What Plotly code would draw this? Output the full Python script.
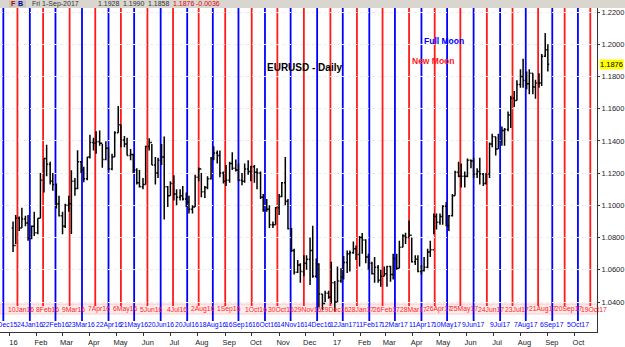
import plotly.graph_objects as go

# ---------------- data ----------------
bar_dates = [
    "2016-01-05", "2016-01-08", "2016-01-12", "2016-01-15", "2016-01-19", "2016-01-22", "2016-01-26", "2016-01-29",
    "2016-02-02", "2016-02-05", "2016-02-09", "2016-02-12", "2016-02-16", "2016-02-19", "2016-02-23", "2016-02-26",
    "2016-03-01", "2016-03-04", "2016-03-08", "2016-03-11", "2016-03-15", "2016-03-18", "2016-03-22", "2016-03-25",
    "2016-03-29", "2016-04-01", "2016-04-05", "2016-04-08", "2016-04-12", "2016-04-15", "2016-04-19", "2016-04-22",
    "2016-04-26", "2016-04-29", "2016-05-03", "2016-05-06", "2016-05-10", "2016-05-13", "2016-05-17", "2016-05-20",
    "2016-05-24", "2016-05-27", "2016-05-31", "2016-06-03", "2016-06-07", "2016-06-10", "2016-06-14", "2016-06-17",
    "2016-06-21", "2016-06-24", "2016-06-28", "2016-07-01", "2016-07-05", "2016-07-08", "2016-07-12", "2016-07-15",
    "2016-07-19", "2016-07-22", "2016-07-26", "2016-07-29", "2016-08-02", "2016-08-05", "2016-08-09", "2016-08-12",
    "2016-08-16", "2016-08-19", "2016-08-23", "2016-08-26", "2016-08-30", "2016-09-02", "2016-09-06", "2016-09-09",
    "2016-09-13", "2016-09-16", "2016-09-20", "2016-09-23", "2016-09-27", "2016-09-30", "2016-10-04", "2016-10-07",
    "2016-10-11", "2016-10-14", "2016-10-18", "2016-10-21", "2016-10-25", "2016-10-28", "2016-11-01", "2016-11-04",
    "2016-11-08", "2016-11-11", "2016-11-15", "2016-11-18", "2016-11-22", "2016-11-25", "2016-11-29", "2016-12-02",
    "2016-12-06", "2016-12-09", "2016-12-13", "2016-12-16", "2016-12-20", "2016-12-23", "2016-12-27", "2016-12-30",
    "2017-01-03", "2017-01-06", "2017-01-10", "2017-01-13", "2017-01-17", "2017-01-20", "2017-01-24", "2017-01-27",
    "2017-01-31", "2017-02-03", "2017-02-07", "2017-02-10", "2017-02-14", "2017-02-17", "2017-02-21", "2017-02-24",
    "2017-02-28", "2017-03-03", "2017-03-07", "2017-03-10", "2017-03-14", "2017-03-17", "2017-03-21", "2017-03-24",
    "2017-03-28", "2017-03-31", "2017-04-04", "2017-04-07", "2017-04-11", "2017-04-14", "2017-04-18", "2017-04-21",
    "2017-04-25", "2017-04-28", "2017-05-02", "2017-05-05", "2017-05-09", "2017-05-12", "2017-05-16", "2017-05-19",
    "2017-05-23", "2017-05-26", "2017-05-30", "2017-06-02", "2017-06-06", "2017-06-09", "2017-06-13", "2017-06-16",
    "2017-06-20", "2017-06-23", "2017-06-27", "2017-06-30", "2017-07-04", "2017-07-07", "2017-07-11", "2017-07-14",
    "2017-07-18", "2017-07-21", "2017-07-25", "2017-07-28", "2017-08-01", "2017-08-04", "2017-08-08", "2017-08-11",
    "2017-08-15", "2017-08-18", "2017-08-22", "2017-08-25", "2017-08-29", "2017-09-01",
]
bar_high = [
    1.0900, 1.0940, 1.0930, 1.0985, 1.0935, 1.0940, 1.0875, 1.0960,
    1.0920, 1.1200, 1.1290, 1.1376, 1.1270, 1.1200, 1.1135, 1.1060,
    1.0960, 1.1010, 1.1060, 1.1218, 1.1170, 1.1342, 1.1275, 1.1240,
    1.1300, 1.1438, 1.1420, 1.1460, 1.1465, 1.1380, 1.1398, 1.1360,
    1.1320, 1.1460, 1.1616, 1.1500, 1.1430, 1.1420, 1.1350, 1.1320,
    1.1230, 1.1220, 1.1170, 1.1370, 1.1416, 1.1380, 1.1300, 1.1295,
    1.1380, 1.1428, 1.1120, 1.1150, 1.1187, 1.1100, 1.1100, 1.1120,
    1.1080, 1.1060, 1.1000, 1.1190, 1.1235, 1.1200, 1.1120, 1.1180,
    1.1300, 1.1366, 1.1340, 1.1340, 1.1210, 1.1250, 1.1270, 1.1330,
    1.1285, 1.1260, 1.1200, 1.1260, 1.1280, 1.1245, 1.1250, 1.1230,
    1.1210, 1.1070, 1.1040, 1.1000, 1.0900, 1.0990, 1.1070, 1.1145,
    1.1300, 1.1040, 1.0860, 1.0730, 1.0660, 1.0640, 1.0690, 1.0690,
    1.0800, 1.0874, 1.0670, 1.0640, 1.0450, 1.0470, 1.0470, 1.0650,
    1.0530, 1.0620, 1.0610, 1.0685, 1.0720, 1.0720, 1.0775, 1.0750,
    1.0810, 1.0829, 1.0790, 1.0700, 1.0650, 1.0680, 1.0630, 1.0600,
    1.0620, 1.0625, 1.0625, 1.0700, 1.0700, 1.0780, 1.0820, 1.0830,
    1.0906, 1.0800, 1.0690, 1.0690, 1.0630, 1.0680, 1.0730, 1.0780,
    1.0950, 1.0950, 1.0950, 1.1000, 1.1020, 1.0940, 1.1070, 1.1215,
    1.1270, 1.1260, 1.1210, 1.1290, 1.1285, 1.1295, 1.1230, 1.1296,
    1.1200, 1.1200, 1.1390, 1.1445, 1.1425, 1.1445, 1.1490, 1.1480,
    1.1583, 1.1680, 1.1710, 1.1777, 1.1845, 1.1910, 1.1830, 1.1845,
    1.1820, 1.1780, 1.1820, 1.1940, 1.2070, 1.2000,
]
bar_low = [
    1.0710, 1.0760, 1.0840, 1.0860, 1.0870, 1.0780, 1.0790, 1.0810,
    1.0820, 1.0920, 1.1080, 1.1180, 1.1130, 1.1090, 1.0980, 1.0930,
    1.0820, 1.0860, 1.0960, 1.0822, 1.1060, 1.1100, 1.1200, 1.1144,
    1.1155, 1.1290, 1.1340, 1.1320, 1.1370, 1.1234, 1.1280, 1.1217,
    1.1217, 1.1300, 1.1450, 1.1360, 1.1360, 1.1310, 1.1280, 1.1200,
    1.1130, 1.1110, 1.1100, 1.1130, 1.1340, 1.1250, 1.1130, 1.1170,
    1.1250, 1.0912, 1.0990, 1.1060, 1.1030, 1.1000, 1.1030, 1.1030,
    1.0990, 1.0950, 1.0950, 1.0990, 1.1150, 1.1050, 1.1045, 1.1100,
    1.1160, 1.1280, 1.1260, 1.1175, 1.1135, 1.1120, 1.1140, 1.1220,
    1.1210, 1.1150, 1.1125, 1.1140, 1.1190, 1.1150, 1.1140, 1.1100,
    1.1040, 1.0960, 1.0960, 1.0860, 1.0860, 1.0880, 1.0940, 1.1050,
    1.1000, 1.0850, 1.0710, 1.0570, 1.0580, 1.0520, 1.0560, 1.0600,
    1.0505, 1.0550, 1.0550, 1.0367, 1.0352, 1.0400, 1.0420, 1.0390,
    1.0340, 1.0400, 1.0520, 1.0540, 1.0580, 1.0590, 1.0700, 1.0660,
    1.0620, 1.0700, 1.0640, 1.0600, 1.0570, 1.0520, 1.0520, 1.0494,
    1.0560, 1.0494, 1.0525, 1.0540, 1.0600, 1.0610, 1.0740, 1.0760,
    1.0800, 1.0645, 1.0630, 1.0585, 1.0570, 1.0590, 1.0610, 1.0680,
    1.0820, 1.0850, 1.0880, 1.0880, 1.0870, 1.0840, 1.0930, 1.1060,
    1.1175, 1.1110, 1.1110, 1.1175, 1.1230, 1.1170, 1.1170, 1.1130,
    1.1120, 1.1130, 1.1170, 1.1360, 1.1310, 1.1350, 1.1370, 1.1370,
    1.1460, 1.1480, 1.1610, 1.1650, 1.1730, 1.1730, 1.1720, 1.1690,
    1.1690, 1.1662, 1.1730, 1.1740, 1.1920, 1.1830,
]
bar_close = [
    1.0750, 1.0920, 1.0860, 1.0915, 1.0890, 1.0795, 1.0870, 1.0830,
    1.0920, 1.1155, 1.1290, 1.1255, 1.1150, 1.1130, 1.1010, 1.0935,
    1.0870, 1.1000, 1.1010, 1.1150, 1.1105, 1.1270, 1.1220, 1.1165,
    1.1300, 1.1390, 1.1385, 1.1395, 1.1385, 1.1285, 1.1355, 1.1225,
    1.1300, 1.1450, 1.1500, 1.1405, 1.1380, 1.1310, 1.1315, 1.1220,
    1.1140, 1.1115, 1.1130, 1.1365, 1.1390, 1.1250, 1.1200, 1.1280,
    1.1300, 1.1115, 1.1060, 1.1135, 1.1070, 1.1050, 1.1060, 1.1040,
    1.1020, 1.0975, 1.0990, 1.1175, 1.1225, 1.1085, 1.1110, 1.1165,
    1.1290, 1.1325, 1.1310, 1.1200, 1.1150, 1.1155, 1.1260, 1.1230,
    1.1220, 1.1155, 1.1150, 1.1225, 1.1210, 1.1240, 1.1205, 1.1200,
    1.1050, 1.0970, 1.0975, 1.0880, 1.0880, 1.0985, 1.1055, 1.1140,
    1.1025, 1.0855, 1.0720, 1.0585, 1.0630, 1.0590, 1.0640, 1.0665,
    1.0720, 1.0560, 1.0635, 1.0450, 1.0390, 1.0455, 1.0430, 1.0520,
    1.0400, 1.0530, 1.0555, 1.0645, 1.0700, 1.0705, 1.0730, 1.0695,
    1.0800, 1.0785, 1.0680, 1.0640, 1.0575, 1.0615, 1.0535, 1.0560,
    1.0575, 1.0620, 1.0570, 1.0670, 1.0610, 1.0740, 1.0810, 1.0800,
    1.0815, 1.0650, 1.0665, 1.0590, 1.0595, 1.0615, 1.0710, 1.0725,
    1.0930, 1.0895, 1.0930, 1.0995, 1.0875, 1.0935, 1.1060, 1.1205,
    1.1180, 1.1180, 1.1180, 1.1280, 1.1275, 1.1195, 1.1210, 1.1195,
    1.1135, 1.1195, 1.1380, 1.1425, 1.1350, 1.1400, 1.1465, 1.1470,
    1.1560, 1.1665, 1.1650, 1.1750, 1.1800, 1.1775, 1.1755, 1.1820,
    1.1735, 1.1760, 1.1760, 1.1925, 1.1965, 1.1876,
]
first_open = 1.0860
bar_open = [first_open] + bar_close[:-1]

full_moon_dates = [
    "2015-12-25", "2016-01-24", "2016-02-22", "2016-03-23", "2016-04-22", "2016-05-21", "2016-06-20",
    "2016-07-20", "2016-08-18", "2016-09-16", "2016-10-16", "2016-11-14", "2016-12-14", "2017-01-12",
    "2017-02-11", "2017-03-12", "2017-04-11", "2017-05-10", "2017-06-09", "2017-07-09", "2017-08-07",
    "2017-09-06", "2017-10-05",
]
full_moon_labels = [
    "25Dec15", "24Jan16", "22Feb16", "23Mar16", "22Apr16", "21May16", "20Jun16",
    "20Jul16", "18Aug16", "16Sep16", "16Oct16", "14Nov16", "14Dec16", "12Jan17",
    "11Feb17", "12Mar17", "11Apr17", "10May17", "9Jun17", "9Jul17", "7Aug17",
    "6Sep17", "5Oct17",
]
new_moon_dates = [
    "2016-01-10", "2016-02-08", "2016-03-09", "2016-04-07", "2016-05-06", "2016-06-05", "2016-07-04",
    "2016-08-02", "2016-09-01", "2016-10-01", "2016-10-30", "2016-11-29", "2016-12-29", "2017-01-28",
    "2017-02-26", "2017-03-28", "2017-04-26", "2017-05-25", "2017-06-24", "2017-07-23", "2017-08-21",
    "2017-09-20", "2017-10-19",
]
new_moon_labels = [
    "10Jan16", "8Feb16", "9Mar16", "7Apr16", "6May16", "5Jun16", "4Jul16",
    "2Aug16", "1Sep16", "1Oct16", "30Oct16", "29Nov16", "29Dec16", "28Jan17",
    "26Feb17", "28Mar17", "26Apr17", "25May17", "24Jun17", "23Jul17", "21Aug17",
    "20Sep17", "19Oct17",
]

month_ticks = [
    "2016-01-01", "2016-02-01", "2016-03-01", "2016-04-01", "2016-05-01", "2016-06-01", "2016-07-01",
    "2016-08-01", "2016-09-01", "2016-10-01", "2016-11-01", "2016-12-01", "2017-01-01", "2017-02-01",
    "2017-03-01", "2017-04-01", "2017-05-01", "2017-06-01", "2017-07-01", "2017-08-01", "2017-09-01",
    "2017-10-01",
]
month_labels = ["16", "Feb", "Mar", "Apr", "May", "Jun", "Jul", "Aug", "Sep", "Oct", "Nov", "Dec",
                "17", "Feb", "Mar", "Apr", "May", "Jun", "Jul", "Aug", "Sep", "Oct"]

price_ticks = [1.04, 1.06, 1.08, 1.10, 1.12, 1.14, 1.16, 1.18, 1.20, 1.22]
last_price = 1.1876

header_date = "Fri 1-Sep-2017"
header_open = "1.1928"
header_high = "1.1990"
header_low = "1.1858"
header_close = "1.1876"
header_change = "-0.0036"

# ---------------- layout geometry ----------------
W, H = 625, 347
ML, MR, MT, MB = 0, 28, 8, 15
PW = W - ML - MR
PH = H - MT - MB


def px_x(px):
    return (px - ML) / PW


def px_y(py):
    return (H - MB - py) / PH


FONT = "Liberation Sans, Arial, sans-serif"
BLUE = "#0000ff"
RED = "#ff1a1a"

fig = go.Figure()

fig.add_trace(go.Ohlc(
    x=bar_dates, open=bar_open, high=bar_high, low=bar_low, close=bar_close,
    increasing=dict(line=dict(color="black", width=1.5)),
    decreasing=dict(line=dict(color="black", width=1.5)),
    tickwidth=0.5, showlegend=False, hoverinfo="skip",
))

shapes = []
annotations = []

# pink label band
shapes.append(dict(type="rect", xref="paper", yref="paper", x0=0, x1=1,
                   y0=px_y(314), y1=px_y(304), fillcolor="rgba(255,190,190,0.3)",
                   line=dict(color="rgba(255,170,170,0.6)", width=1), layer="below"))

for d, lab in zip(new_moon_dates, new_moon_labels):
    shapes.append(dict(type="line", xref="x", yref="paper", x0=d, x1=d,
                       y0=px_y(306), y1=1, line=dict(color=RED, width=1.8), layer="between"))
    annotations.append(dict(x=d, xref="x", y=px_y(309), yref="paper", text=lab, showarrow=False,
                            xanchor="center", yanchor="middle", xshift=4,
                            font=dict(family=FONT, size=6.8, color=RED)))

for d, lab in zip(full_moon_dates, full_moon_labels):
    shapes.append(dict(type="line", xref="x", yref="paper", x0=d, x1=d,
                       y0=px_y(321), y1=1, line=dict(color=BLUE, width=1.8), layer="between"))
    annotations.append(dict(x=d, xref="x", y=px_y(324.5), yref="paper", text=lab, showarrow=False,
                            xanchor="center", yanchor="middle",
                            font=dict(family=FONT, size=6.8, color=BLUE)))

# header bar
shapes.append(dict(type="rect", xref="paper", yref="paper", x0=px_x(0), x1=px_x(W),
                   y0=1, y1=px_y(0), fillcolor="#d9d6d0", line=dict(width=0), layer="above"))
shapes.append(dict(type="rect", xref="paper", yref="paper", x0=px_x(9), x1=px_x(26),
                   y0=1.002, y1=px_y(0.5), fillcolor="#c8c4bc", line=dict(width=0), layer="above"))

hdr_y = px_y(4)
header_items = [
    ("F", 13, "#b00000", True),
    ("B", 20, "#0000b0", True),
    (header_date, 30, "#333333", False),
    (header_open, 96, "#333333", False),
    (header_high, 121, "#333333", False),
    (header_low, 146, "#333333", False),
    (header_close, 171, "#e00000", False),
    (header_change, 194, "#e00000", False),
]
for txt, xp, col, bold in header_items:
    annotations.append(dict(x=px_x(xp), xref="paper", y=hdr_y, yref="paper",
                            text=(f"<b>{txt}</b>" if bold else txt),
                            showarrow=False, xanchor="center" if bold else "left", yanchor="middle",
                            font=dict(family=FONT, size=7, color=col)))

# titles
annotations.append(dict(x=px_x(304), xref="paper", y=px_y(67), yref="paper", text="<b>EURUSD - Daily</b>",
                        showarrow=False, xanchor="center", yanchor="middle",
                        font=dict(family=FONT, size=10, color="black")))
annotations.append(dict(x=px_x(444), xref="paper", y=px_y(41), yref="paper", text="<b>Full Moon</b>",
                        showarrow=False, xanchor="center", yanchor="middle",
                        font=dict(family=FONT, size=8.5, color=BLUE)))
annotations.append(dict(x=px_x(433), xref="paper", y=px_y(61), yref="paper", text="<b>New Moon</b>",
                        showarrow=False, xanchor="center", yanchor="middle",
                        font=dict(family=FONT, size=8.5, color=RED)))

# last price marker
annotations.append(dict(x=px_x(599), xref="paper", y=last_price, yref="y", text=f"{last_price:.4f}",
                        showarrow=False, xanchor="left", yanchor="middle", bgcolor="#ffff00",
                        borderpad=0, font=dict(family=FONT, size=7.5, color="black")))

# ranges: y=12px -> 1.22, y=302px -> 1.04
ppu = (302 - 12) / 0.18
y_top = 1.22 + (12 - MT) / ppu
y_bot = 1.04 - (H - MB - 302) / ppu

fig.update_layout(
    width=W, height=H,
    margin=dict(l=ML, r=MR, t=MT, b=MB, pad=0),
    paper_bgcolor="white", plot_bgcolor="white",
    shapes=shapes, annotations=annotations,
    showlegend=False,
    xaxis=dict(
        type="date", range=["2015-12-21 06:00", "2017-10-26 14:00"],
        rangeslider=dict(visible=False),
        tickmode="array", tickvals=month_ticks, ticktext=month_labels,
        ticks="outside", ticklen=3, tickcolor="#333", ticklabelshift=4,
        showline=True, linecolor="#333", linewidth=1, mirror=False,
        showgrid=False,
        tickfont=dict(family=FONT, size=7.5, color="#222"),
        zeroline=False, automargin=False, fixedrange=True,
    ),
    yaxis=dict(
        side="right", range=[y_bot, y_top],
        tickmode="array", tickvals=price_ticks, tickformat=".4f",
        ticks="outside", ticklen=2, tickcolor="#333",
        showline=True, linecolor="#333", linewidth=1,
        showgrid=True, gridcolor="#ececec", griddash="dot", gridwidth=1,
        tickfont=dict(family=FONT, size=7.5, color="#222"),
        zeroline=False, automargin=False, fixedrange=True,
    ),
)

fig.write_html("out.html")
